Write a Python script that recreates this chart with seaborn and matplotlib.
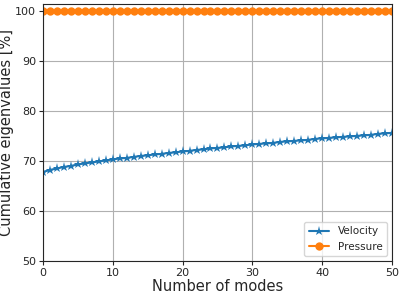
import pandas as pd
import matplotlib
matplotlib.use('Agg')
import matplotlib.pyplot as plt
import seaborn as sns

modes = list(range(51))
velocity = [67.8, 68.2, 68.5, 68.8, 69.0, 69.3, 69.5, 69.7, 69.9, 70.1,
            70.3, 70.5, 70.6, 70.8, 71.0, 71.1, 71.3, 71.4, 71.6, 71.7,
            71.9, 72.0, 72.2, 72.3, 72.5, 72.6, 72.7, 72.9, 73.0, 73.1,
            73.3, 73.4, 73.5, 73.6, 73.8, 73.9, 74.0, 74.1, 74.2, 74.4,
            74.5, 74.6, 74.7, 74.8, 74.9, 75.0, 75.1, 75.2, 75.4, 75.5,
            75.6]
pressure = [100.0] * 51

df = pd.DataFrame({'Modes': modes, 'Velocity': velocity, 'Pressure': pressure})

sns.set_style('ticks')
plt.rcParams['font.family'] = ['DejaVu Sans']

fig, ax = plt.subplots(figsize=(3.99, 2.95), dpi=100)
sns.lineplot(data=df, x='Modes', y='Velocity', marker='*', markersize=6.5,
             markeredgewidth=0, color='#1f77b4', label='Velocity', ax=ax)
sns.lineplot(data=df, x='Modes', y='Pressure', marker='o', markersize=6,
             markeredgewidth=0, color='#ff7f0e', label='Pressure', ax=ax)

ax.set_xlim(0, 50)
ax.set_ylim(50, 101.3)
ax.grid(True, color='#b0b0b0', linewidth=0.8)
ax.set_xlabel('Number of modes', fontsize=10.5, labelpad=1)
ax.set_ylabel('Cumulative eigenvalues [%]', fontsize=10.5, labelpad=1)
ax.tick_params(labelsize=8, length=3, pad=2)
ax.legend(loc='lower right', fontsize=7.5)
fig.subplots_adjust(left=0.108, right=0.982, top=0.986, bottom=0.115)
plt.savefig('out.png')
